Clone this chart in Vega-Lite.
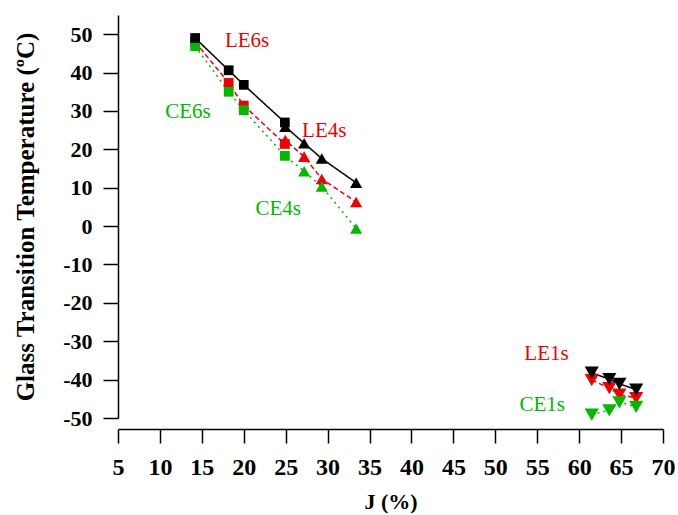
{
  "$schema": "https://vega.github.io/schema/vega-lite/v6.json",
  "width": 545,
  "height": 403,
  "autosize": "none",
  "padding": {"left": 118, "top": 15, "right": 15, "bottom": 97},
  "background": "white",
  "config": {
    "view": {"stroke": null},
    "font": "Liberation Serif",
    "axis": {
      "domainColor": "black",
      "domainWidth": 1.5,
      "tickColor": "black",
      "tickWidth": 1.5,
      "grid": false,
      "labelFont": "Liberation Serif",
      "labelFontWeight": "bold",
      "labelColor": "black",
      "titleFont": "Liberation Serif",
      "titleFontWeight": "bold",
      "titleColor": "black"
    }
  },
  "datasets": {
    "pts": [
      {"J": 14.2, "T": 48.0, "mat": "LE", "g": "6s", "set": "LE-hi"},
      {"J": 18.2, "T": 37.3, "mat": "LE", "g": "6s", "set": "LE-hi"},
      {"J": 20.0, "T": 31.4, "mat": "LE", "g": "6s", "set": "LE-hi"},
      {"J": 24.9, "T": 21.4, "mat": "LE", "g": "6s", "set": "LE-hi"},
      {"J": 24.95, "T": 22.4, "mat": "LE", "g": "4s", "set": "LE-hi"},
      {"J": 27.2, "T": 18.1, "mat": "LE", "g": "4s", "set": "LE-hi"},
      {"J": 29.3, "T": 12.3, "mat": "LE", "g": "4s", "set": "LE-hi"},
      {"J": 33.4, "T": 6.3, "mat": "LE", "g": "4s", "set": "LE-hi"},
      {"J": 61.5, "T": -40.1, "mat": "LE", "g": "1s", "set": "LE-lo"},
      {"J": 63.6, "T": -42.2, "mat": "LE", "g": "1s", "set": "LE-lo"},
      {"J": 64.8, "T": -43.9, "mat": "LE", "g": "1s", "set": "LE-lo"},
      {"J": 66.8, "T": -44.8, "mat": "LE", "g": "1s", "set": "LE-lo"},
      {"J": 14.2, "T": 46.9, "mat": "CE", "g": "6s", "set": "CE-hi"},
      {"J": 18.2, "T": 35.0, "mat": "CE", "g": "6s", "set": "CE-hi"},
      {"J": 20.0, "T": 30.2, "mat": "CE", "g": "6s", "set": "CE-hi"},
      {"J": 24.9, "T": 18.3, "mat": "CE", "g": "6s", "set": "CE-hi"},
      {"J": 27.2, "T": 14.3, "mat": "CE", "g": "4s", "set": "CE-hi"},
      {"J": 29.3, "T": 10.3, "mat": "CE", "g": "4s", "set": "CE-hi"},
      {"J": 33.4, "T": -0.6, "mat": "CE", "g": "4s", "set": "CE-hi"},
      {"J": 61.5, "T": -49.1, "mat": "CE", "g": "1s", "set": "CE-lo"},
      {"J": 63.6, "T": -48.0, "mat": "CE", "g": "1s", "set": "CE-lo"},
      {"J": 64.8, "T": -45.9, "mat": "CE", "g": "1s", "set": "CE-lo"},
      {"J": 66.8, "T": -47.1, "mat": "CE", "g": "1s", "set": "CE-lo"},
      {"J": 24.95, "T": 25.9, "mat": "E", "g": "4s", "set": "E-hi"},
      {"J": 27.2, "T": 21.6, "mat": "E", "g": "4s", "set": "E-hi"},
      {"J": 29.3, "T": 17.6, "mat": "E", "g": "4s", "set": "E-hi"},
      {"J": 33.4, "T": 11.3, "mat": "E", "g": "4s", "set": "E-hi"},
      {"J": 14.2, "T": 49.0, "mat": "E", "g": "6s", "set": "E-hi"},
      {"J": 18.2, "T": 40.6, "mat": "E", "g": "6s", "set": "E-hi"},
      {"J": 20.0, "T": 36.8, "mat": "E", "g": "6s", "set": "E-hi"},
      {"J": 24.9, "T": 27.0, "mat": "E", "g": "6s", "set": "E-hi"},
      {"J": 61.5, "T": -38.2, "mat": "E", "g": "1s", "set": "E-lo"},
      {"J": 63.6, "T": -39.9, "mat": "E", "g": "1s", "set": "E-lo"},
      {"J": 64.8, "T": -41.1, "mat": "E", "g": "1s", "set": "E-lo"},
      {"J": 66.8, "T": -42.6, "mat": "E", "g": "1s", "set": "E-lo"}
    ],
    "labels": [
      {"J": 20.4, "T": 48.3, "text": "LE6s", "mat": "LE"},
      {"J": 13.35, "T": 29.6, "text": "CE6s", "mat": "CE"},
      {"J": 29.6, "T": 24.9, "text": "LE4s", "mat": "LE"},
      {"J": 24.1, "T": 4.4, "text": "CE4s", "mat": "CE"},
      {"J": 56.1, "T": -33.3, "text": "LE1s", "mat": "LE"},
      {"J": 55.6, "T": -46.5, "text": "CE1s", "mat": "CE"}
    ]
  },
  "layer": [
    {
      "data": {"name": "pts"},
      "mark": {"type": "line", "strokeWidth": 1.5},
      "encoding": {
        "x": {
          "field": "J", "type": "quantitative",
          "scale": {"domain": [5, 70], "nice": false, "zero": false},
          "axis": {
            "title": "J (%)",
            "values": [5, 7.5, 10, 12.5, 15, 17.5, 20, 22.5, 25, 27.5, 30, 32.5, 35, 37.5, 40, 42.5, 45, 47.5, 50, 52.5, 55, 57.5, 60, 62.5, 65, 67.5, 70],
            "labelExpr": "datum.value % 5 === 0 ? datum.label : ''",
            "tickSize": {"condition": {"test": "datum.value % 5 === 0", "value": 14}, "value": 8},
            "offset": 11,
            "labelFontSize": 24,
            "labelPadding": 12,
            "labelFlush": false,
            "labelOverlap": false,
            "titleFontSize": 22,
            "titlePadding": 12
          }
        },
        "y": {
          "field": "T", "type": "quantitative",
          "scale": {"domain": [-50, 55], "nice": false, "zero": false},
          "axis": {
            "title": "Glass Transition Temperature (ºC)",
            "values": [-50, -45, -40, -35, -30, -25, -20, -15, -10, -5, 0, 5, 10, 15, 20, 25, 30, 35, 40, 45, 50, 55],
            "labelExpr": "(datum.value % 10 === 0 && datum.value < 55) ? replace(datum.label, '\u2212', '-') : ''",
            "tickSize": {"condition": {"test": "datum.value % 10 === 0 && datum.value < 55", "value": 15}, "value": 8},
            "labelFontSize": 22,
            "labelPadding": 11,
            "labelFlush": false,
            "labelOverlap": false,
            "titleFontSize": 25,
            "titlePadding": 24
          }
        },
        "detail": {"field": "set"},
        "order": {"field": "J", "type": "quantitative"},
        "color": {
          "field": "mat", "type": "nominal",
          "scale": {"domain": ["E", "LE", "CE"], "range": ["#000000", "#f00000", "#00b800"]},
          "legend": null
        },
        "strokeDash": {
          "field": "mat", "type": "nominal",
          "scale": {"domain": ["E", "LE", "CE"], "range": [[1, 0], [5, 3], [2, 4]]},
          "legend": null
        }
      }
    },
    {
      "data": {"name": "pts"},
      "mark": {"type": "point", "filled": true, "opacity": 1},
      "encoding": {
        "x": {"field": "J", "type": "quantitative"},
        "y": {"field": "T", "type": "quantitative"},
        "color": {"field": "mat", "type": "nominal", "legend": null},
        "shape": {
          "field": "g", "type": "nominal",
          "scale": {"domain": ["6s", "4s", "1s"], "range": ["square", "triangle-up", "triangle-down"]},
          "legend": null
        },
        "size": {
          "field": "g", "type": "nominal",
          "scale": {"domain": ["6s", "4s", "1s"], "range": [95, 200, 200]},
          "legend": null
        }
      }
    },
    {
      "data": {"name": "labels"},
      "mark": {"type": "text", "font": "Liberation Serif", "fontSize": 21, "align": "center", "baseline": "middle"},
      "encoding": {
        "x": {"field": "J", "type": "quantitative"},
        "y": {"field": "T", "type": "quantitative"},
        "text": {"field": "text"},
        "color": {"field": "mat", "type": "nominal", "legend": null}
      }
    }
  ]
}
